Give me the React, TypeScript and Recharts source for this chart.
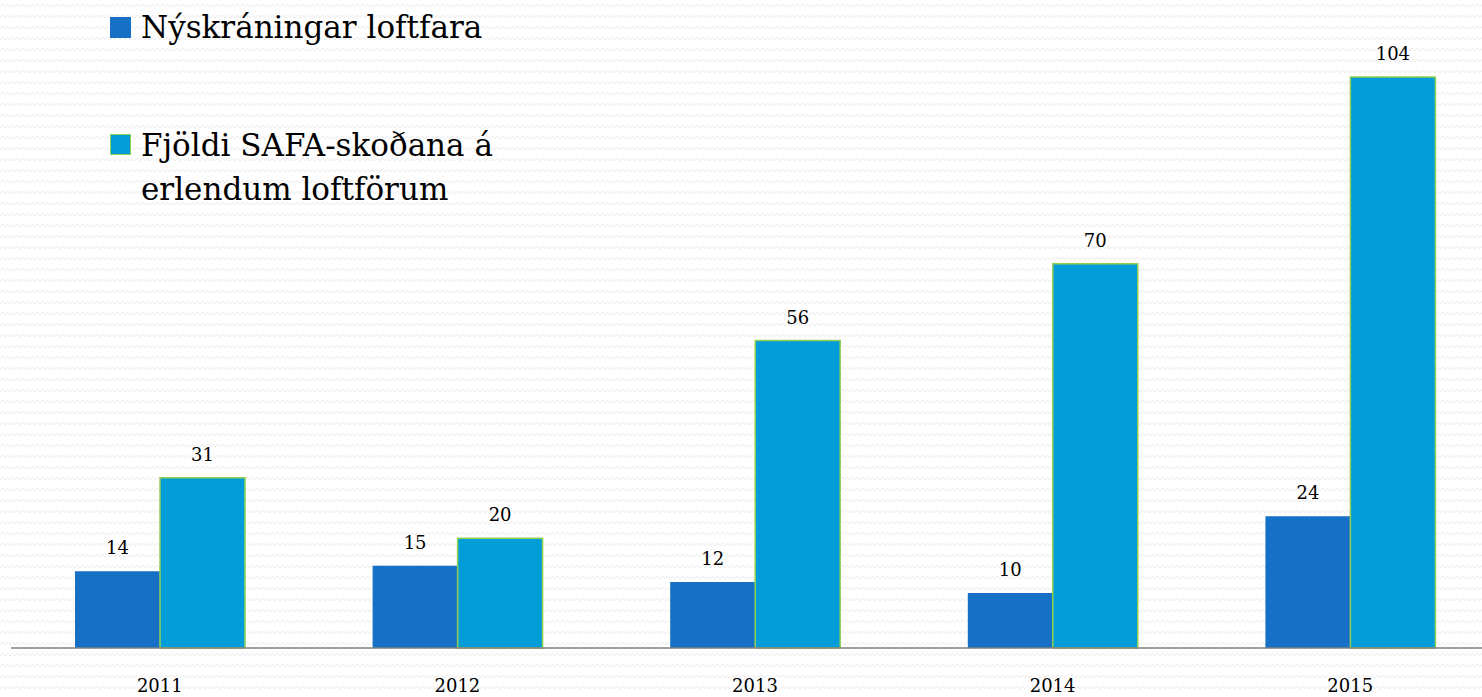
import { BarChart, Bar, XAxis, YAxis, Legend, LabelList } from 'recharts'

const years = ['2011', '2012', '2013', '2014', '2015']
const registrations = [14, 15, 12, 10, 24]
const safaInspections = [31, 20, 56, 70, 104]

const data = years.map((year, i) => ({
  year,
  registrations: registrations[i],
  safa: safaInspections[i],
}))

const FONT = '"DejaVu Serif", "Liberation Serif", serif'
const DARK = '#1570c6'
const LIGHT = '#009dd9'
const EDGE = '#92d050'

const pattern =
  "url(\"data:image/svg+xml,%3Csvg xmlns='http://www.w3.org/2000/svg' width='10' height='11'%3E%3Cpath d='M0 7 L2.5 4 L5 7 L7.5 4 L10 7' fill='none' stroke='%23ebebeb' stroke-width='1'/%3E%3C/svg%3E\")"

const ChartLegend = ({ payload }: { payload?: Array<{ value: string; color: string; dataKey?: string }> }) => {
  if (!payload) return null
  return (
    <div style={{ fontFamily: FONT, fontSize: 31, lineHeight: '44px', color: '#000' }}>
      {payload.map((entry) => {
        const first = entry.dataKey === 'registrations'
        return (
          <div
            key={String(entry.dataKey)}
            style={{ position: 'absolute', left: 0, top: first ? 5 : 123, display: 'flex', whiteSpace: 'pre' }}
          >
            <span
              style={{
                display: 'inline-block',
                width: 21,
                height: 21,
                marginTop: first ? 12 : 11,
                marginRight: 10,
                boxSizing: 'border-box',
                background: first ? DARK : LIGHT,
                border: first ? 'none' : `1.5px solid ${EDGE}`,
              }}
            />
            <span>{entry.value}</span>
          </div>
        )
      })}
    </div>
  )
}

export default function App() {
  return (
    <>
      <style>{'html,body{margin:0;overflow:hidden}'}</style>
      <div style={{ position: 'relative', width: 1482, height: 697, overflow: 'hidden', background: `#fff ${pattern}` }}>
        <BarChart
          width={1499}
          height={697}
          data={data}
          margin={{ top: 44, right: 0, left: 11, bottom: 9 }}
          barGap={0}
          barSize={85}
        >
          <XAxis
            dataKey="year"
            height={40}
            tickLine={false}
            tickMargin={25}
            axisLine={{ stroke: '#7f7f7f', strokeWidth: 1.5 }}
            tick={{ fill: '#000', fontSize: 18, fontFamily: FONT }}
          />
          <YAxis hide domain={[0, 110]} />
          <Legend
            layout="vertical"
            align="center"
            verticalAlign="middle"
            itemSorter={null}
            wrapperStyle={{ top: 0, left: 110, width: 500, height: 220 }}
            content={<ChartLegend />}
          />
          <Bar dataKey="registrations" name="Nýskráningar loftfara" fill={DARK} isAnimationActive={false}>
            <LabelList dataKey="registrations" position="top" offset={17} fill="#000" fontSize={18} fontFamily={FONT} />
          </Bar>
          <Bar
            dataKey="safa"
            name={'Fjöldi SAFA-skoðana á\nerlendum loftförum'}
            fill={LIGHT}
            stroke={EDGE}
            strokeWidth={1.5}
            isAnimationActive={false}
          >
            <LabelList dataKey="safa" position="top" offset={17} fill="#000" fontSize={18} fontFamily={FONT} />
          </Bar>
        </BarChart>
      </div>
    </>
  )
}
